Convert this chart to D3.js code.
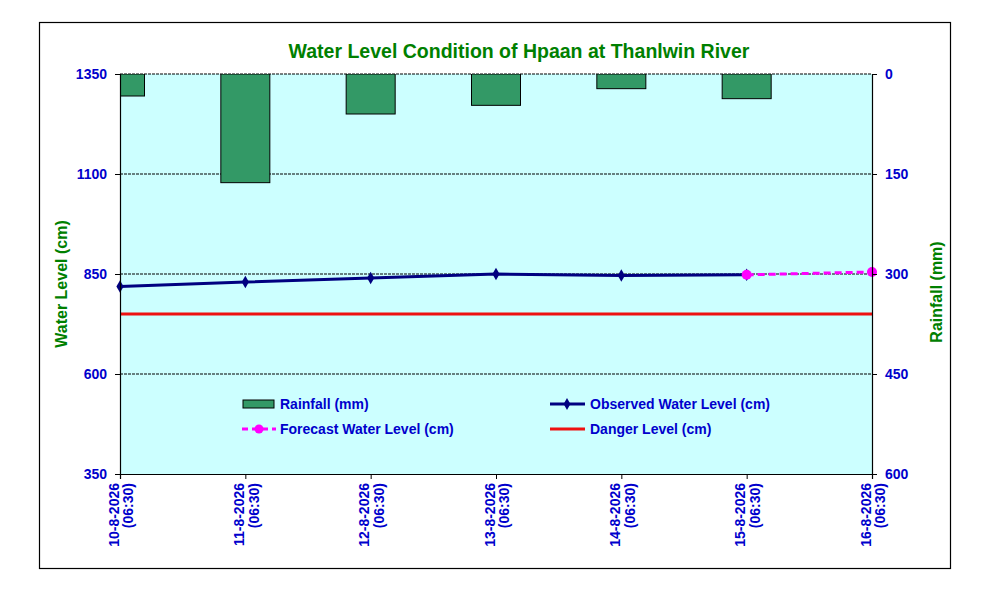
<!DOCTYPE html>
<html>
<head>
<meta charset="utf-8">
<script src="https://cdn.jsdelivr.net/npm/d3@7"></script>
<style>
  body { margin: 0; background: #fff; }
  text { font-family: "Liberation Sans", Arial, sans-serif; font-weight: bold; }
</style>
</head>
<body>
<div id="chart"></div>
<script>
// chart data
var dates = ["10-8-2026", "11-8-2026", "12-8-2026", "13-8-2026", "14-8-2026", "15-8-2026", "16-8-2026"];
var times = ["(06:30)", "(06:30)", "(06:30)", "(06:30)", "(06:30)", "(06:30)", "(06:30)"];
var rainfall = [33, 163, 60, 47, 22, 37, 0];
var observed = [819, 830, 840, 850, 846, 848, null];
var forecast = [null, null, null, null, null, 848, 855];
var danger = 750;
var levelTicks = [350, 600, 850, 1100, 1350];
var rainTicks = [0, 150, 300, 450, 600];

var W = 1003, H = 591;
var margin = { top: 74, right: 131, bottom: 117, left: 120 },
    width = W - margin.left - margin.right,
    height = H - margin.top - margin.bottom;

var svg = d3.select("#chart").append("svg")
    .attr("width", W)
    .attr("height", H);

// outer frame
svg.append("rect")
    .attr("x", 39.5).attr("y", 22.5)
    .attr("width", 911).attr("height", 546)
    .attr("fill", "#fff").attr("stroke", "#000").attr("stroke-width", 1.2);

var g = svg.append("g")
    .attr("transform", "translate(" + margin.left + "," + margin.top + ")");

var x = d3.scalePoint().domain(d3.range(dates.length)).range([0, width]);
var y = d3.scaleLinear().domain([350, 1350]).range([height, 0]);
var yr = d3.scaleLinear().domain([0, 600]).range([0, height]);

g.append("rect")
    .attr("width", width).attr("height", height)
    .attr("fill", "#ccffff");

// gridlines
g.selectAll(".grid")
  .data(levelTicks.slice(1))
  .enter().append("line")
    .attr("x1", 0).attr("x2", width)
    .attr("y1", d => y(d)).attr("y2", d => y(d))
    .attr("stroke", "#000").attr("stroke-width", 1)
    .attr("stroke-dasharray", "3,1");

// rainfall bars hanging from the top
var barW = 49;
g.append("clipPath").attr("id", "plotclip")
  .append("rect").attr("width", width).attr("height", height);
g.append("g").attr("clip-path", "url(#plotclip)")
  .selectAll("rect")
  .data(rainfall)
  .enter().append("rect")
    .attr("x", (d, i) => x(i) - barW / 2)
    .attr("y", 0)
    .attr("width", barW)
    .attr("height", d => yr(d))
    .attr("fill", "#339966")
    .attr("stroke", "#000")
    .attr("stroke-width", d => d > 0 ? 1 : 0);

// danger level
g.append("line")
    .attr("x1", 0).attr("x2", width)
    .attr("y1", y(danger)).attr("y2", y(danger))
    .attr("stroke", "#ee1111").attr("stroke-width", 3);

// observed line
var line = d3.line()
    .defined(d => d != null)
    .x((d, i) => x(i))
    .y(d => y(d));

g.append("path")
    .datum(observed)
    .attr("d", line)
    .attr("fill", "none")
    .attr("stroke", "#000080")
    .attr("stroke-width", 3);

g.selectAll(".obs")
  .data(observed.map((d, i) => [i, d]).filter(d => d[1] != null))
  .enter().append("path")
    .attr("d", d3.symbol().type(d3.symbolDiamond).size(45))
    .attr("transform", d => "translate(" + x(d[0]) + "," + y(d[1]) + ")")
    .attr("fill", "#000080");

// forecast line
g.append("path")
    .datum(forecast)
    .attr("d", line)
    .attr("fill", "none")
    .attr("stroke", "#ff00ff")
    .attr("stroke-width", 3)
    .attr("stroke-dasharray", "7,4");

g.selectAll(".fc")
  .data(forecast.map((d, i) => [i, d]).filter(d => d[1] != null))
  .enter().append("circle")
    .attr("cx", d => x(d[0]))
    .attr("cy", d => y(d[1]))
    .attr("r", 5)
    .attr("fill", "#ff00ff");

// axes
var yAxis = g.append("g")
    .call(d3.axisLeft(y).tickValues(levelTicks).tickSize(5).tickPadding(8).tickFormat(d3.format("d")));
var rAxis = g.append("g")
    .attr("transform", "translate(" + width + ",0)")
    .call(d3.axisRight(yr).tickValues(rainTicks).tickSize(5).tickPadding(8).tickFormat(d3.format("d")));
var xAxis = g.append("g")
    .attr("transform", "translate(0," + height + ")")
    .call(d3.axisBottom(x).tickSize(5).tickFormat(""));

[yAxis, rAxis, xAxis].forEach(function(a) {
  a.select(".domain").attr("stroke", "#000").attr("stroke-width", 1.2);
  a.selectAll(".tick line").attr("stroke", "#000");
  a.selectAll("text")
    .attr("fill", "#0000cc")
    .style("font-size", "14px")
    .style("font-family", "'Liberation Sans', Arial, sans-serif")
    .style("font-weight", "bold");
});

// x labels, rotated two-line
var xl = g.append("g").selectAll("text")
  .data(dates)
  .enter().append("text")
    .attr("transform", (d, i) => "translate(" + x(i) + "," + (height + 9) + ") rotate(-90)")
    .attr("text-anchor", "end")
    .attr("fill", "#0000cc")
    .style("font-size", "14px");
xl.append("tspan")
    .attr("x", 0).attr("dy", "-0.1em")
    .text(d => d);
xl.append("tspan")
    .attr("x", 0).attr("dy", "1.05em")
    .text((d, i) => times[i]);

// title
svg.append("text")
    .attr("x", 519).attr("y", 58)
    .attr("text-anchor", "middle")
    .attr("fill", "#008000")
    .style("font-size", "19.5px")
    .text("Water Level Condition of Hpaan at Thanlwin River");

svg.append("text")
    .attr("transform", "translate(67,284) rotate(-90)")
    .attr("text-anchor", "middle")
    .attr("fill", "#008000")
    .style("font-size", "16px")
    .text("Water Level (cm)");

svg.append("text")
    .attr("transform", "translate(942,292) rotate(-90)")
    .attr("text-anchor", "middle")
    .attr("fill", "#008000")
    .style("font-size", "16px")
    .text("Rainfall (mm)");

// legend
var lg = svg.append("g");
lg.append("rect")
    .attr("x", 243).attr("y", 400).attr("width", 31).attr("height", 8)
    .attr("fill", "#339966").attr("stroke", "#000");
lg.append("line")
    .attr("x1", 550).attr("x2", 585).attr("y1", 404).attr("y2", 404)
    .attr("stroke", "#000080").attr("stroke-width", 3);
lg.append("path")
    .attr("d", d3.symbol().type(d3.symbolDiamond).size(40))
    .attr("transform", "translate(567,404)")
    .attr("fill", "#000080");
lg.append("line")
    .attr("x1", 242).attr("x2", 276).attr("y1", 429).attr("y2", 429)
    .attr("stroke", "#ff00ff").attr("stroke-width", 3)
    .attr("stroke-dasharray", "6,4");
lg.append("circle")
    .attr("cx", 259).attr("cy", 429).attr("r", 4.5)
    .attr("fill", "#ff00ff");
lg.append("line")
    .attr("x1", 550).attr("x2", 585).attr("y1", 429).attr("y2", 429)
    .attr("stroke", "#ee1111").attr("stroke-width", 3);

var legendText = [
  ["Rainfall (mm)", 280, 409],
  ["Observed Water Level (cm)", 590, 409],
  ["Forecast Water Level (cm)", 280, 434],
  ["Danger Level (cm)", 590, 434]
];
lg.selectAll(".lt")
  .data(legendText)
  .enter().append("text")
    .attr("x", d => d[1]).attr("y", d => d[2])
    .attr("fill", "#0000cc")
    .style("font-size", "14px")
    .text(d => d[0]);
</script>
</body>
</html>
